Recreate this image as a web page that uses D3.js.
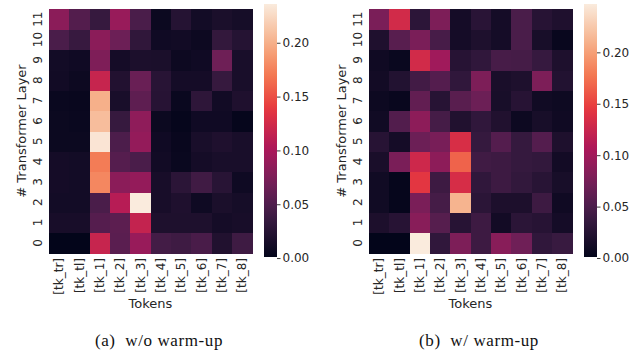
<!DOCTYPE html>
<html>
<head>
<meta charset="utf-8">
<script src="https://cdn.jsdelivr.net/npm/d3@7"></script>
<style>
  body { margin: 0; background: #fff; }
  svg { display: block; }
</style>
</head>
<body>
<svg id="chart" width="644" height="353"></svg>
<script>
// tokens on x, transformer layers on y (layer 0 at bottom)
const tokens = ["[tk_tr]", "[tk_tl]", "[tk_1]", "[tk_2]", "[tk_3]", "[tk_4]", "[tk_5]", "[tk_6]", "[tk_7]", "[tk_8]"];
const layers = [0, 1, 2, 3, 4, 5, 6, 7, 8, 9, 10, 11];
const colorbarTicks = [0, 0.05, 0.10, 0.15, 0.20];

// (a) w/o warm-up, one row per layer, starting at layer 0
const noWarmup = [
  [0.001, 0.001, 0.118, 0.056, 0.090, 0.043, 0.040, 0.046, 0.021, 0.040],
  [0.015, 0.015, 0.053, 0.057, 0.116, 0.019, 0.019, 0.019, 0.013, 0.015],
  [0.012, 0.012, 0.047, 0.108, 0.236, 0.015, 0.020, 0.009, 0.017, 0.014],
  [0.013, 0.012, 0.178, 0.083, 0.088, 0.015, 0.028, 0.041, 0.026, 0.009],
  [0.013, 0.012, 0.172, 0.053, 0.047, 0.011, 0.006, 0.013, 0.016, 0.016],
  [0.007, 0.007, 0.232, 0.048, 0.088, 0.010, 0.005, 0.016, 0.020, 0.016],
  [0.007, 0.006, 0.208, 0.035, 0.085, 0.007, 0.003, 0.010, 0.010, 0.003],
  [0.006, 0.005, 0.200, 0.016, 0.058, 0.025, 0.006, 0.030, 0.011, 0.020],
  [0.011, 0.008, 0.118, 0.022, 0.064, 0.026, 0.013, 0.013, 0.035, 0.016],
  [0.012, 0.010, 0.076, 0.013, 0.018, 0.017, 0.008, 0.010, 0.067, 0.016],
  [0.047, 0.036, 0.083, 0.066, 0.031, 0.010, 0.011, 0.008, 0.033, 0.024],
  [0.083, 0.052, 0.035, 0.090, 0.047, 0.007, 0.024, 0.012, 0.017, 0.014]
];

// (b) w/ warm-up
const withWarmup = [
  [0.001, 0.001, 0.247, 0.033, 0.079, 0.041, 0.085, 0.071, 0.033, 0.038],
  [0.019, 0.026, 0.085, 0.056, 0.026, 0.041, 0.012, 0.029, 0.026, 0.014],
  [0.011, 0.003, 0.077, 0.046, 0.212, 0.029, 0.019, 0.019, 0.041, 0.010],
  [0.011, 0.003, 0.143, 0.041, 0.134, 0.033, 0.041, 0.034, 0.027, 0.016],
  [0.017, 0.077, 0.128, 0.088, 0.167, 0.043, 0.041, 0.036, 0.034, 0.012],
  [0.026, 0.014, 0.069, 0.076, 0.135, 0.036, 0.055, 0.036, 0.055, 0.020],
  [0.011, 0.054, 0.088, 0.046, 0.022, 0.033, 0.022, 0.008, 0.016, 0.010],
  [0.008, 0.005, 0.063, 0.026, 0.058, 0.069, 0.016, 0.026, 0.011, 0.009],
  [0.012, 0.023, 0.044, 0.055, 0.033, 0.079, 0.017, 0.020, 0.079, 0.023],
  [0.010, 0.006, 0.131, 0.099, 0.026, 0.033, 0.047, 0.046, 0.037, 0.020],
  [0.021, 0.057, 0.077, 0.047, 0.014, 0.020, 0.014, 0.049, 0.016, 0.005],
  [0.077, 0.131, 0.030, 0.079, 0.014, 0.028, 0.014, 0.049, 0.026, 0.021]
];

// seaborn "rocket" approximated by known stops
const rocketStops = [
  [0.000, "#03051a"], [0.143, "#35193e"], [0.200, "#4c1d4b"], [0.286, "#701f57"],
  [0.400, "#a11a5b"], [0.429, "#ad1759"], [0.571, "#e13342"], [0.600, "#e83f3f"],
  [0.714, "#f37651"], [0.800, "#f69c73"], [0.857, "#f6b48f"], [1.000, "#faebdd"]
];
const rocket = d3.scaleLinear()
  .domain(rocketStops.map(d => d[0]))
  .range(rocketStops.map(d => d[1]))
  .interpolate(d3.interpolateRgb)
  .clamp(true);

const textColor = "#262626";
const svg = d3.select("#chart");

function drawPanel(offsetX, data, caption, id) {
  const g = svg.append("g").attr("transform", `translate(${offsetX},0)`);
  const vmin = d3.min(data.flat()), vmax = d3.max(data.flat());

  const x = d3.scaleBand().domain(tokens).range([49, 252.5]);
  const y = d3.scaleBand().domain(layers.slice().reverse()).range([9, 253]);
  const color = v => rocket((v - vmin) / (vmax - vmin));

  // cells
  layers.forEach((layer, i) => {
    g.selectAll(null)
      .data(data[i])
      .join("rect")
      .attr("x", (d, j) => x(tokens[j]))
      .attr("y", y(layer))
      .attr("width", x.bandwidth() + 0.5)
      .attr("height", y.bandwidth() + 0.5)
      .attr("shape-rendering", "crispEdges")
      .attr("fill", d => color(d));
  });

  // y tick labels (rotated)
  g.selectAll(null)
    .data(layers)
    .join("text")
    .attr("transform", d => `translate(38,${y(d) + y.bandwidth() / 2}) rotate(-90)`)
    .attr("text-anchor", "middle")
    .attr("dominant-baseline", "central")
    .attr("font-family", "DejaVu Sans")
    .attr("font-size", 12)
    .attr("fill", textColor)
    .text(d => d);

  // x tick labels (rotated)
  g.selectAll(null)
    .data(tokens)
    .join("text")
    .attr("transform", d => `translate(${x(d) + x.bandwidth() / 2},258) rotate(-90)`)
    .attr("text-anchor", "end")
    .attr("dominant-baseline", "central")
    .attr("font-family", "DejaVu Sans")
    .attr("font-size", 12)
    .attr("fill", textColor)
    .text(d => d);

  g.append("text")
    .attr("x", 150.5).attr("y", 303)
    .attr("text-anchor", "middle")
    .attr("dominant-baseline", "central")
    .attr("font-family", "DejaVu Sans")
    .attr("font-size", 13)
    .attr("fill", textColor)
    .text("Tokens");

  g.append("text")
    .attr("transform", "translate(21,131) rotate(-90)")
    .attr("text-anchor", "middle")
    .attr("dominant-baseline", "central")
    .attr("font-family", "DejaVu Sans")
    .attr("font-size", 13)
    .attr("fill", textColor)
    .text("# Transformer Layer");

  // colorbar
  const cb = d3.scaleLinear().domain([vmin, vmax]).range([257, 4]);
  const grad = svg.append("defs").append("linearGradient")
    .attr("id", id).attr("x1", 0).attr("y1", 1).attr("x2", 0).attr("y2", 0);
  grad.selectAll("stop")
    .data(d3.range(0, 1.0001, 0.02))
    .join("stop")
    .attr("offset", d => d)
    .attr("stop-color", d => rocket(d));
  g.append("rect")
    .attr("x", 264).attr("y", cb(vmax))
    .attr("width", 13).attr("height", cb(vmin) - cb(vmax))
    .attr("fill", `url(#${id})`);

  const axis = g.append("g")
    .attr("transform", "translate(277,0)")
    .call(d3.axisRight(cb).tickValues(colorbarTicks).tickFormat(d3.format(".2f")).tickSize(3.5).tickPadding(2));
  axis.select(".domain").remove();
  axis.selectAll("line").attr("stroke", textColor).attr("stroke-width", 0.9);
  axis.selectAll("text")
    .attr("font-family", "DejaVu Sans")
    .attr("font-size", 12)
    .attr("fill", textColor);

  g.append("text")
    .attr("x", 159).attr("y", 346)
    .attr("text-anchor", "middle")
    .attr("font-family", "Liberation Serif")
    .attr("font-size", 17)
    .attr("letter-spacing", 0.6)
    .attr("fill", "#111")
    .attr("xml:space", "preserve")
    .text(caption);
}

drawPanel(0, noWarmup, "(a)  w/o warm-up", "cbA");
drawPanel(320, withWarmup, "(b)  w/ warm-up", "cbB");
</script>
</body>
</html>
